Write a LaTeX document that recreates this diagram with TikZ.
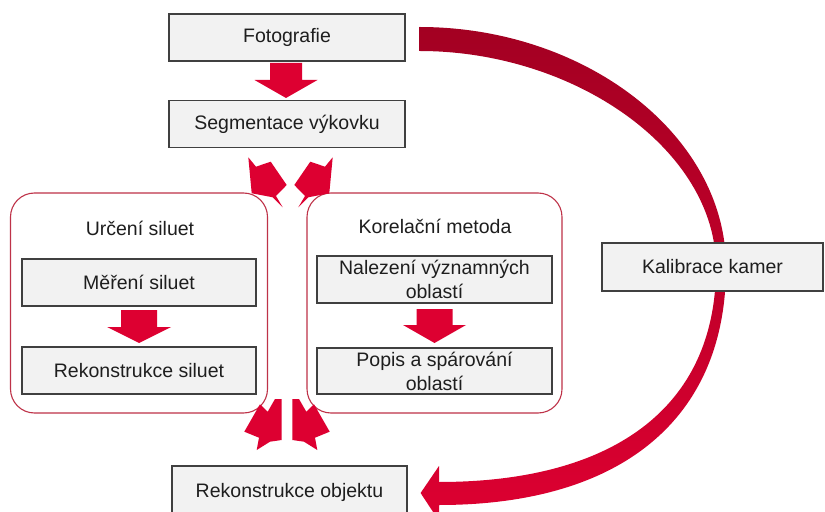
\documentclass[tikz,border=0pt]{standalone}
\usepackage{fontspec}
\setmainfont{Liberation Sans}
\usetikzlibrary{calc}
\definecolor{ared}{RGB}{221,0,49}
\definecolor{adark}{RGB}{163,0,34}
\definecolor{amid}{RGB}{196,0,40}
\definecolor{boxfill}{RGB}{242,242,242}
\definecolor{boxline}{RGB}{64,64,64}
\definecolor{contline}{RGB}{190,50,72}
\definecolor{txt}{RGB}{30,30,30}
\newcommand\downblk[6]{% cx, ytop, bodyw, headw, yhead, ytip
  \fill[ared] ({#1-#3/2},#2) -- ({#1+#3/2},#2) -- ({#1+#3/2},#5) -- ({#1+#4/2},#5)
    -- (#1,#6) -- ({#1-#4/2},#5) -- ({#1-#3/2},#5) -- cycle;}
\begin{document}
\begin{tikzpicture}[x=1bp,y=-1bp,
  every node/.style={font=\fontsize{19.5bp}{24bp}\selectfont, text=txt},
  box/.style 2 args={draw=boxline, fill=boxfill, line width=1.2bp, inner sep=0pt,
    align=center, minimum width=#1bp, minimum height=#2bp},
  cont/.style 2 args={draw=contline, line width=1.1bp, fill=white, rounded corners=24bp,
    inner sep=0pt, minimum width=#1bp, minimum height=#2bp},
  lbl/.style={inner sep=0pt}]
\useasboundingbox (0,0) rectangle (825,512);
\clip (0,0) rectangle (825,512);
\fill[white] (0,0) rectangle (825,512);

% containers
\node[cont={257}{220}] (c1) at (139,303) {};
\node[cont={255}{220}] (c2) at (434.5,303) {};
\node[lbl] (t1) at (140,228) {Určení siluet};
\node[lbl] (t2) at (435,226) {Korelační metoda};

% boxes
\node[box={236}{47}] (foto) at (287,37.5) {Fotografie};
\node[box={236}{47}] (seg) at (287,124) {Segmentace výkovku};
\node[box={234}{47}] (mer) at (139,282.5) {Měření siluet};
\node[box={234}{47}] (rek) at (139,370.5) {Rekonstrukce siluet};
\node[box={235}{47}] (nal) at (434.5,279.5) {Nalezení významných\\oblastí};
\node[box={235}{46}] (pop) at (434.5,371) {Popis a spárování\\oblastí};
\node[box={235}{52}] (obj) at (289.5,492) {Rekonstrukce objektu};

% curved arrow from Fotografie to Rekonstrukce objektu
\path (foto.east) ++(14,-10.5) coordinate (ca1) ++(0,24) coordinate (ca2);
\path (obj.east) ++(13,1) coordinate (tip);
\shade[top color=adark, middle color=amid, bottom color=ared]
  (ca1) .. controls (585,27) and (726,135) .. (726,267)
  .. controls (726,420) and (620,505) .. (439,505)
  -- (439,521) -- (tip) -- (439,466) -- (439,482)
  .. controls (610,482) and (716,410) .. (716,267)
  .. controls (716,150) and (575,51) .. (ca2) -- cycle;

\node[box={221}{48}] (kal) at (712.5,267) {Kalibrace kamer};

% straight block arrows
\downblk{286}{63}{32}{63}{80}{98}
\downblk{139}{310}{36}{64}{327}{343}
\downblk{434.5}{309}{36}{63}{325}{343}

% diagonal block arrows (top pair)
\fill[ared] (248.3,157.3) -- (256,166.7) -- (270.7,161.7) -- (286.7,185) -- (276,196)
  -- (282.7,207.3) -- (272.7,197.3) -- (251.7,193.3) -- cycle;
\fill[ared] (332.7,157.3) -- (325,166.7) -- (310.3,161.7) -- (294.3,185) -- (305,196)
  -- (298.3,207.3) -- (308.3,197.3) -- (329.3,193.3) -- cycle;
% diagonal block arrows (bottom pair)
\fill[ared] (260,404.3) -- (267.7,411.7) -- (275,399) -- (281.7,399) -- (281.7,440)
  -- (270,441.7) -- (256.7,450) -- (259,437.7) -- (244.3,431.7) -- cycle;
\fill[ared] (314,404.3) -- (306.3,411.7) -- (299,399) -- (292.3,399) -- (292.3,440)
  -- (304,441.7) -- (317.3,450) -- (315,437.7) -- (329.7,431.7) -- cycle;
\end{tikzpicture}
\end{document}
